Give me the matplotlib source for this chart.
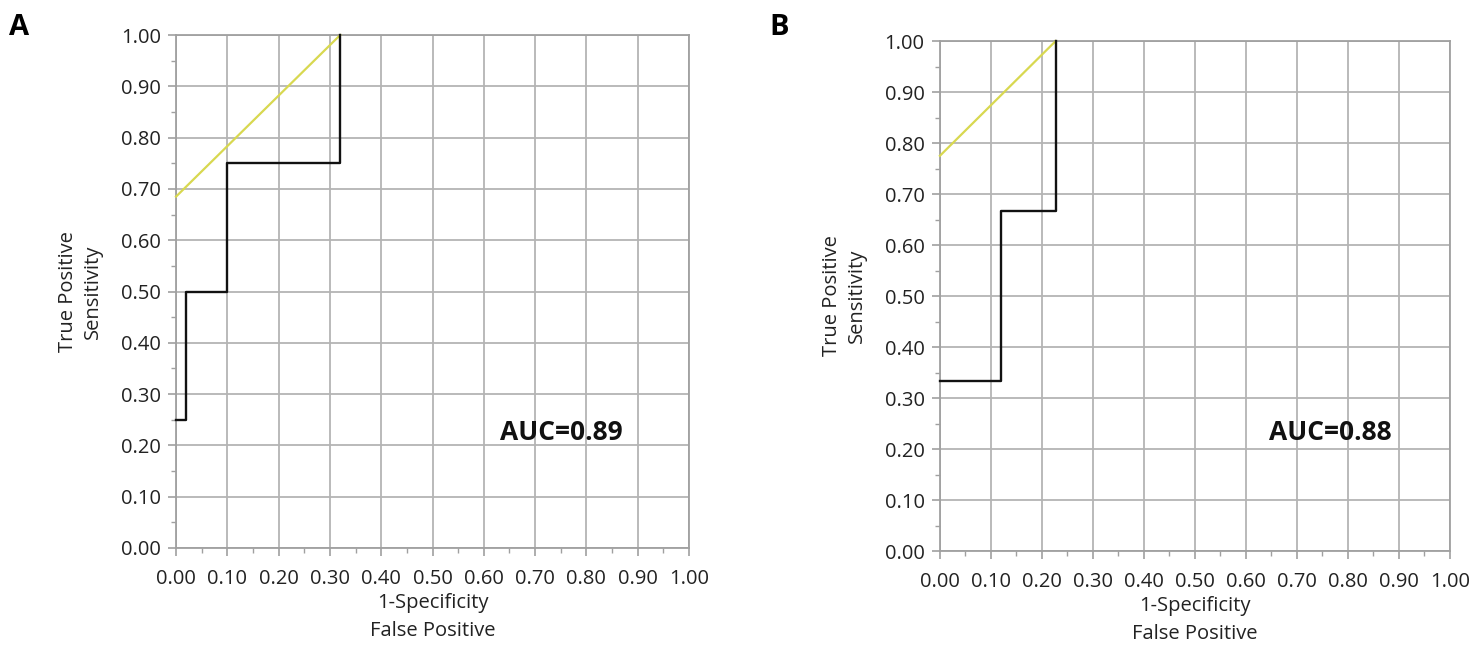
import numpy as np
import matplotlib.pyplot as plt
from matplotlib.ticker import MultipleLocator

plt.rcParams['font.family'] = ['Open Sans', 'DejaVu Sans']

# Panel A ROC curve (1-specificity, sensitivity)
roc_a_x = [0.0, 0.02, 0.02, 0.10, 0.10, 0.32, 0.32]
roc_a_y = [0.25, 0.25, 0.50, 0.50, 0.75, 0.75, 1.00]
tangent_a_x = [0.0, 0.32]
tangent_a_y = [0.685, 1.00]
auc_a = "AUC=0.89"

# Panel B ROC curve
roc_b_x = [0.0, 0.12, 0.12, 0.227, 0.227]
roc_b_y = [0.333, 0.333, 0.667, 0.667, 1.00]
tangent_b_x = [0.0, 0.227]
tangent_b_y = [0.775, 1.00]
auc_b = "AUC=0.88"

ticks = np.round(np.arange(0, 1.01, 0.1), 2)
tick_labels = [f"{t:.2f}" for t in ticks]

fig = plt.figure(figsize=(14.83, 6.45), dpi=100)
ax_a = fig.add_axes([0.1187, 0.1504, 0.3459, 0.7953])
ax_b = fig.add_axes([0.6338, 0.1457, 0.3439, 0.7907])

def style_axes(ax):
    ax.set_xlim(0, 1)
    ax.set_ylim(0, 1)
    ax.set_xticks(ticks)
    ax.set_xticklabels(tick_labels)
    ax.set_yticks(ticks)
    ax.set_yticklabels(tick_labels)
    ax.xaxis.set_minor_locator(MultipleLocator(0.05))
    ax.yaxis.set_minor_locator(MultipleLocator(0.05))
    ax.grid(True, which='major', color='#b4b4b4', linewidth=1.3)
    ax.set_axisbelow(True)
    for s in ax.spines.values():
        s.set_color('#a0a0a0')
        s.set_linewidth(1.3)
    ax.tick_params(which='major', length=6, width=1.2, color='#a0a0a0',
                   labelsize=14.5, labelcolor='#222222')
    ax.tick_params(axis='x', which='major', pad=9)
    ax.tick_params(axis='y', which='major', pad=5)
    ax.tick_params(which='minor', length=3.5, width=1.0, color='#a0a0a0')
    ax.set_xlabel("1-Specificity\nFalse Positive", fontsize=14.5, color='#222222',
                  linespacing=1.55, labelpad=3)
    ax.set_ylabel("True Positive\nSensitivity", fontsize=14.5, color='#222222',
                  linespacing=1.3, labelpad=13)

for ax, rx, ry, tx, ty, auc, pos in [
        (ax_a, roc_a_x, roc_a_y, tangent_a_x, tangent_a_y, auc_a, (0.752, 0.226)),
        (ax_b, roc_b_x, roc_b_y, tangent_b_x, tangent_b_y, auc_b, (0.765, 0.233))]:
    style_axes(ax)
    ax.plot(tx, ty, color='#d8d850', linewidth=1.6, clip_on=False, zorder=3)
    ax.plot(rx, ry, color='#111111', linewidth=1.7, clip_on=False, zorder=4)
    ax.text(pos[0], pos[1], auc, fontsize=19, fontweight='bold',
            ha='center', va='center', color='#111111')

fig.text(0.006, 0.958, "A", fontsize=21, fontweight='bold', va='center', ha='left')
fig.text(0.519, 0.958, "B", fontsize=21, fontweight='bold', va='center', ha='left')

fig.savefig("out.png", dpi=100)
